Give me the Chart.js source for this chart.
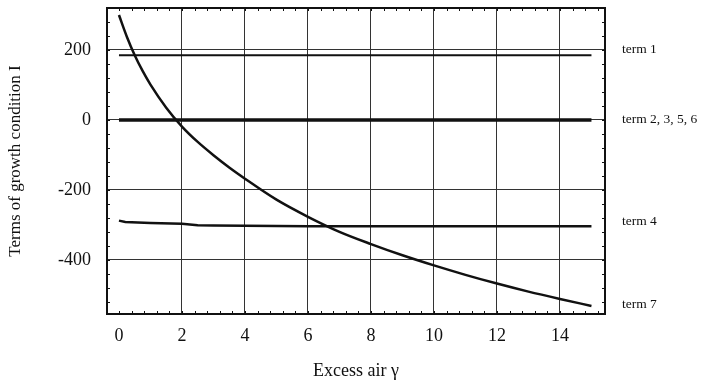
<!DOCTYPE html>
<html>
<head>
<meta charset="utf-8">
<script src="https://cdn.jsdelivr.net/npm/chart.js@4"></script>
<style>
  html, body { margin: 0; padding: 0; background: #fff; }
  #wrap { width: 705px; height: 384px; position: relative; }
</style>
</head>
<body>
<div id="wrap"><canvas id="c" width="705" height="384"></canvas></div>
<script>
// ---- data ----
const xTerm1 = [0, 15];
const term1 = [185, 185];

const xTerm2356 = [0, 15];
const term2356 = [0, 0];

const xTerm4 = [0, 0.2, 1, 2, 2.5, 3, 4, 6, 10, 15];
const term4 = [-288, -292, -295, -297, -301, -302, -303, -304, -304, -304];

const xTerm7 = [0, 0.25, 0.5, 0.75, 1, 1.5, 2, 2.5, 3, 3.5, 4, 5, 6, 7, 8, 9, 10, 11, 12, 13, 14, 15];
const term7 = [300, 238, 185, 140, 101, 35, -19, -63, -101, -136, -168, -228, -277, -320, -355, -387, -416, -443, -468, -491, -512, -532];

const seriesLabels = ["term 1", "term 2, 3, 5, 6", "term 4", "term 7"];
const labelAnchors = [201, 0, -290, -528];

const xTitle = "Excess air γ";
const yTitle = "Terms of growth condition I";

const xMin = -0.38, xMax = 15.43, xStep = 2;
const yMin = -555, yMax = 320, yStep = 200;
const xMinorStep = 0.4, yMinorStep = 40;

function pts(xs, ys) { return xs.map((x, i) => ({ x: x, y: ys[i] })); }

const serif = "'Liberation Serif', 'DejaVu Serif', serif";

const decorPlugin = {
  id: 'decor',
  afterDraw(chart) {
    const { ctx, chartArea: a, scales: { x, y } } = chart;
    ctx.save();
    ctx.strokeStyle = '#111';
    ctx.lineWidth = 1;
    const tl = 3;
    ctx.beginPath();
    for (let v = 0; v <= 15.2 + 1e-9; v += xMinorStep) {
      const px = Math.round(x.getPixelForValue(v)) + 0.5;
      ctx.moveTo(px, a.bottom); ctx.lineTo(px, a.bottom - tl);
      ctx.moveTo(px, a.top); ctx.lineTo(px, a.top + tl);
    }
    for (let v = -520; v <= 320; v += yMinorStep) {
      const py = Math.round(y.getPixelForValue(v)) + 0.5;
      if (py < a.top || py > a.bottom) continue;
      ctx.moveTo(a.left, py); ctx.lineTo(a.left + tl, py);
      ctx.moveTo(a.right, py); ctx.lineTo(a.right - tl, py);
    }
    ctx.stroke();
    ctx.lineWidth = 2;
    ctx.strokeStyle = '#111';
    ctx.strokeRect(a.left, a.top, a.right - a.left, a.bottom - a.top);
    ctx.fillStyle = '#111';
    ctx.font = "13.5px " + serif;
    ctx.textAlign = 'left';
    ctx.textBaseline = 'middle';
    seriesLabels.forEach((t, i) => {
      ctx.fillText(t, a.right + 17, y.getPixelForValue(labelAnchors[i]));
    });
    ctx.restore();
  }
};

const lineBase = { borderColor: '#111', pointRadius: 0, fill: false, tension: 0 };

new Chart(document.getElementById('c'), {
  type: 'line',
  data: {
    datasets: [
      Object.assign({}, lineBase, { label: seriesLabels[0], data: pts(xTerm1, term1), borderWidth: 2 }),
      Object.assign({}, lineBase, { label: seriesLabels[1], data: pts(xTerm2356, term2356), borderWidth: 3.5 }),
      Object.assign({}, lineBase, { label: seriesLabels[2], data: pts(xTerm4, term4), borderWidth: 2.5 }),
      Object.assign({}, lineBase, { label: seriesLabels[3], data: pts(xTerm7, term7), borderWidth: 2.5, cubicInterpolationMode: 'monotone' })
    ]
  },
  options: {
    responsive: false,
    animation: false,
    events: [],
    layout: { padding: { top: 8, right: 100, left: 0, bottom: 0 } },
    plugins: { legend: { display: false }, tooltip: { enabled: false } },
    scales: {
      x: {
        type: 'linear',
        min: xMin, max: xMax,
        afterFit(s) { s.height = 70; s.paddingLeft = 0; s.paddingRight = 0; },
        grid: {
          drawTicks: false,
          color: (c) => (c.tick && c.tick.value === 0) ? 'rgba(0,0,0,0)' : '#333',
          lineWidth: 1
        },
        border: { display: false },
        ticks: {
          stepSize: xStep, includeBounds: false, padding: 11,
          color: '#111', font: { family: serif, size: 18 }
        },
        title: {
          display: true, text: xTitle, color: '#111',
          font: { family: serif, size: 18 }, padding: { top: 0, bottom: 2 }
        }
      },
      y: {
        type: 'linear',
        min: yMin, max: yMax,
        afterFit(s) { s.width = 107; s.paddingTop = 0; s.paddingBottom = 0; },
        grid: { drawTicks: false, color: '#333', lineWidth: 1 },
        border: { display: false },
        ticks: {
          stepSize: yStep, includeBounds: false, padding: 16,
          color: '#111', font: { family: serif, size: 18 }
        },
        title: {
          display: true, text: yTitle, color: '#111',
          font: { family: serif, size: 17 }, padding: { top: 5, bottom: 0 }
        }
      }
    }
  },
  plugins: [decorPlugin]
});
</script>
</body>
</html>
